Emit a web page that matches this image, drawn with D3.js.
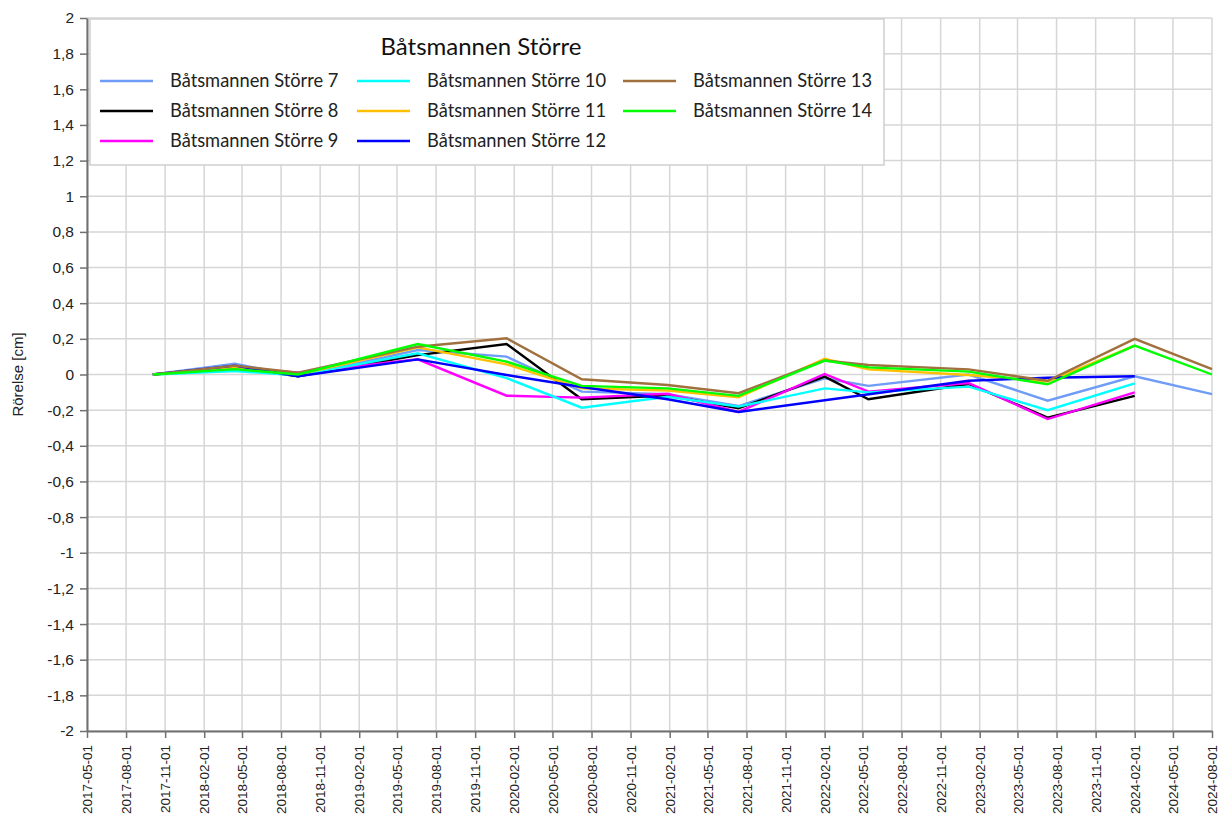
<!DOCTYPE html>
<html>
<head>
<meta charset="utf-8">
<script src="https://cdn.jsdelivr.net/npm/d3@7"></script>
<style>
  body { margin: 0; background: #fff; }
  svg { display: block; font-family: "Liberation Sans", Arial, sans-serif; }
</style>
</head>
<body>
<svg id="chart"></svg>
<script>
// measurement dates
const dates = ['2017-10-03', '2018-04-14', '2018-09-10', '2019-06-19', '2020-01-14', '2020-07-09',
  '2021-01-27', '2021-07-13', '2022-02-01', '2022-05-15', '2023-01-06', '2023-07-11',
  '2024-02-01', '2024-08-01'];

const seriesNames = ['Båtsmannen Större 7', 'Båtsmannen Större 8', 'Båtsmannen Större 9',
  'Båtsmannen Större 10', 'Båtsmannen Större 11', 'Båtsmannen Större 12',
  'Båtsmannen Större 13', 'Båtsmannen Större 14'];
const seriesColors = ['#6f9cf7', '#000000', '#ff00ff', '#00ffff', '#ffc000', '#0000ff', '#a0703f', '#00ff00'];

const s7  = [0, 0.06, -0.01, 0.137, 0.10, -0.096, -0.11, -0.177, -0.021, -0.064, 0.0, -0.147, -0.01, -0.11];
const s8  = [0, 0.04, -0.01, 0.109, 0.171, -0.139, -0.118, -0.19, -0.012, -0.139, -0.053, -0.242, -0.12, null];
const s9  = [0, 0.04, 0.01, 0.085, -0.119, -0.13, -0.108, -0.21, 0.003, -0.096, -0.048, -0.25, -0.1, null];
const s10 = [0, 0.02, -0.005, 0.119, -0.02, -0.186, -0.125, -0.18, -0.078, -0.1, -0.068, -0.2, -0.05, null];
const s11 = [0, 0.04, 0.0, 0.152, 0.057, -0.078, -0.09, -0.128, 0.088, 0.029, -0.003, -0.04, 0.162, null];
const s12 = [0, 0.05, -0.01, 0.085, -0.003, -0.07, -0.139, -0.21, null, null, -0.035, -0.018, -0.01, null];
const s13 = [0, 0.05, 0.01, 0.156, 0.203, -0.027, -0.059, -0.105, 0.078, 0.053, 0.029, -0.035, 0.2, 0.03];
const s14 = [0, 0.03, 0.0, 0.171, 0.072, -0.064, -0.078, -0.12, 0.078, 0.04, 0.016, -0.055, 0.162, 0.0];
const seriesValues = [s7, s8, s9, s10, s11, s12, s13, s14];

const xStart = '2017-05-01';
const xEnd = '2024-08-01';
const yTicks = [-2, -1.8, -1.6, -1.4, -1.2, -1, -0.8, -0.6, -0.4, -0.2, 0, 0.2, 0.4, 0.6, 0.8, 1, 1.2, 1.4, 1.6, 1.8, 2];

const chartTitle = 'Båtsmannen Större';
const yTitle = 'Rörelse [cm]';

const svgWidth = 1219, svgHeight = 826;
const margin = {top: 18, right: 7, bottom: 95, left: 87};
const width = svgWidth - margin.left - margin.right;
const height = svgHeight - margin.top - margin.bottom;

const parse = d3.utcParse('%Y-%m-%d');
const svg = d3.select('#chart').attr('width', svgWidth).attr('height', svgHeight);
const chart = svg.append('g').attr('transform', `translate(${margin.left},${margin.top})`);

/********** scales **********/
const xScale = d3.scaleUtc().domain([parse(xStart), parse(xEnd)]).range([0, width]);
const yScale = d3.scaleLinear().domain([-2, 2]).range([height, 0]);
const xTicks = d3.utcMonth.range(parse(xStart), d3.utcDay.offset(parse(xEnd), 1), 3);
const fmtY = v => d3.format('.1~f')(v).replace('.', ',').replace('−', '-');

/********** grid **********/
chart.append('g')
  .selectAll('line')
  .data(yTicks)
  .join('line')
  .attr('x1', 0).attr('x2', width)
  .attr('y1', d => yScale(d)).attr('y2', d => yScale(d))
  .style('stroke', '#d6d6d6').style('stroke-width', 1.5);

chart.append('g')
  .selectAll('line')
  .data(xTicks)
  .join('line')
  .attr('x1', d => xScale(d)).attr('x2', d => xScale(d))
  .attr('y1', 0).attr('y2', height)
  .style('stroke', '#d6d6d6').style('stroke-width', 1.5);

/********** axes **********/
const xAxis = chart.append('g')
  .attr('transform', `translate(0,${height})`)
  .call(d3.axisBottom(xScale).tickValues(xTicks).tickFormat(d3.utcFormat('%Y-%m-%d')).tickSize(7).tickSizeOuter(0));
xAxis.selectAll('text')
  .attr('transform', 'rotate(-90)')
  .attr('text-anchor', 'end')
  .attr('x', -14).attr('y', 0).attr('dy', '0.35em')
  .style('font-size', '13.5px').style('fill', '#222');

const yAxis = chart.append('g')
  .call(d3.axisLeft(yScale).tickValues(yTicks).tickFormat(fmtY).tickSize(7).tickPadding(6).tickSizeOuter(0));
yAxis.selectAll('text').style('font-size', '15.5px').style('fill', '#222');

[xAxis, yAxis].forEach(a => {
  a.select('.domain').style('stroke', '#707070').style('stroke-width', 2);
  a.selectAll('.tick line').style('stroke', '#707070').style('stroke-width', 1.5);
});

svg.append('text')
  .attr('transform', `translate(23,${margin.top + height / 2}) rotate(-90)`)
  .attr('text-anchor', 'middle')
  .style('font-size', '15px').style('fill', '#222')
  .text(yTitle);

/********** lines **********/
const line = d3.line()
  .defined(d => d.v !== null)
  .x(d => xScale(d.date))
  .y(d => yScale(d.v));

seriesValues.forEach((vals, i) => {
  const pts = vals.map((v, j) => ({date: parse(dates[j]), v: v})).filter(d => d.v !== null);
  chart.append('path')
    .datum(pts)
    .attr('d', line)
    .style('fill', 'none')
    .style('stroke', seriesColors[i])
    .style('stroke-width', 2.4)
    .style('stroke-linejoin', 'miter');
});

/********** legend **********/
const legend = svg.append('g').attr('transform', 'translate(90,19)');
legend.append('rect')
  .attr('width', 794).attr('height', 146)
  .style('fill', '#fff').style('stroke', '#cfcfcf').style('stroke-width', 1.5);
legend.append('text')
  .attr('x', 391).attr('y', 36)
  .attr('text-anchor', 'middle')
  .style('font-family', 'Lato, "Open Sans", sans-serif')
  .style('font-size', '24px').style('fill', '#111')
  .text(chartTitle);

const colX = [10, 267, 533];
seriesNames.forEach((name, i) => {
  const col = Math.floor(i / 3), row = i % 3;
  const g = legend.append('g').attr('transform', `translate(${colX[col]},${62 + row * 30})`);
  g.append('line')
    .attr('x1', 0).attr('x2', 53)
    .style('stroke', seriesColors[i]).style('stroke-width', 2.5);
  g.append('text')
    .attr('x', 70).attr('dy', '0.35em')
    .style('font-family', 'Lato, "Open Sans", sans-serif')
    .style('font-size', '18.3px').style('fill', '#222')
    .text(name);
});
</script>
</body>
</html>
